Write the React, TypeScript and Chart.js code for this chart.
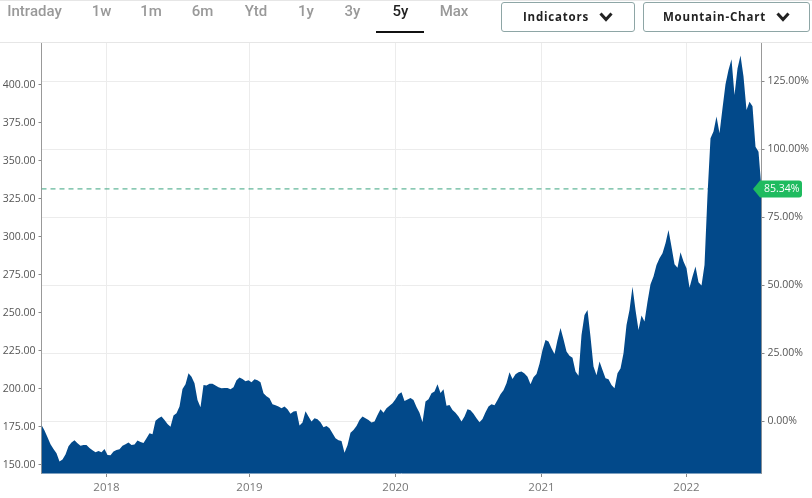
import { useEffect, useRef } from 'react';
import { Chart, registerables } from 'chart.js';

Chart.register(...registerables);

// one reading per sample along the time axis
const closes: number[] = [
  176.3, 172.6, 168.2, 163.6, 160.5, 157.7, 152.2, 153.5, 156.8, 162.3,
  164.7, 166.2, 164.3, 162.7, 163.2, 163.2, 161.2, 159.7, 158.3, 159.2,
  158.3, 160.5, 156.6, 156.4, 158.8, 159.9, 160.3, 162.7, 163.6, 164.7,
  163.2, 163.4, 166.0, 165.1, 164.5, 167.6, 170.8, 170.2, 179.0, 180.7,
  181.8, 179.6, 177.0, 175.2, 182.5, 184.0, 188.4, 200.0, 203.1, 210.3,
  208.1, 203.7, 192.8, 188.0, 202.6, 202.2, 203.5, 203.5, 202.2, 201.1,
  200.4, 200.7, 200.7, 199.8, 201.1, 205.7, 207.5, 206.6, 205.0, 205.7,
  204.4, 206.4, 205.7, 204.4, 197.2, 195.2, 193.9, 189.9, 189.3, 188.4,
  187.3, 188.4, 186.6, 183.6, 185.1, 185.5, 176.0, 178.0, 185.3, 181.8,
  178.5, 180.7, 180.0, 178.1, 174.8, 175.7, 174.1, 170.8, 167.6, 166.2,
  165.8, 158.0, 163.0, 171.1, 173.0, 175.7, 179.6, 181.8, 180.7, 179.6,
  177.9, 178.5, 182.9, 186.6, 184.4, 187.3, 189.0, 190.6, 193.2, 196.5,
  197.8, 192.1, 193.0, 194.1, 192.8, 188.2, 184.4, 178.1, 191.7, 193.2,
  197.2, 198.3, 203.1, 197.4, 199.8, 189.0, 189.5, 186.2, 184.4, 181.8,
  178.5, 181.8, 186.6, 186.0, 183.6, 180.7, 178.1, 180.3, 184.7, 188.4,
  189.9, 189.3, 192.8, 196.5, 199.1, 203.7, 211.0, 206.6, 209.7, 211.0,
  211.4, 210.1, 208.1, 203.1, 207.7, 209.9, 216.5, 225.7, 232.2, 231.2,
  226.8, 223.0, 232.2, 240.1, 232.7, 224.6, 221.9, 220.6, 211.4, 208.6,
  235.5, 248.7, 252.0, 234.4, 214.7, 209.0, 218.0, 212.5, 207.0, 206.4,
  202.6, 200.4, 210.3, 213.4, 223.5, 242.1, 252.0, 267.3, 252.0, 238.8,
  248.3, 244.3, 257.4, 268.8, 273.9, 281.6, 286.0, 289.2, 295.8, 304.6,
  293.6, 282.0, 279.8, 289.9, 283.8, 279.4, 266.6, 273.9, 280.5, 270.2,
  268.0, 281.6, 327.6, 364.9, 369.3, 379.2, 368.2, 384.6, 400.4, 409.9,
  416.9, 393.4, 410.9, 419.3, 405.5, 383.5, 389.0, 386.0, 359.4, 356.0,
  331.6,
];

const priceTicks = [150, 175, 200, 225, 250, 275, 300, 325, 350, 375, 400];
const percentTicks = [0, 25, 50, 75, 100, 125];
const yearLabels = ['2018', '2019', '2020', '2021', '2022'];
const yearStartSamples = [21.67, 69.33, 118, 166.67, 215];
const lastClose = 331.6;
const lastPercent = '85.34%';

const rangeTabs = ['Intraday', '1w', '1m', '6m', 'Ytd', '1y', '3y', '5y', 'Max'];
const tabCenters = [34.5, 101.5, 151, 202.5, 256, 306, 352.5, 400.5, 454];
const activeTab = '5y';

const axisFont = '"Open Sans", sans-serif';

const lastPriceTag = {
  id: 'lastPriceTag',
  afterDraw(chart: any) {
    const y = chart.scales.y.getPixelForValue(lastClose);
    const { ctx } = chart;
    ctx.save();
    ctx.fillStyle = '#1fbb5f';
    ctx.beginPath();
    ctx.moveTo(753, y);
    ctx.lineTo(760, y - 8.5);
    ctx.lineTo(799, y - 8.5);
    ctx.quadraticCurveTo(802, y - 8.5, 802, y - 5.5);
    ctx.lineTo(802, y + 5.5);
    ctx.quadraticCurveTo(802, y + 8.5, 799, y + 8.5);
    ctx.lineTo(760, y + 8.5);
    ctx.closePath();
    ctx.fill();
    ctx.fillStyle = '#fff';
    ctx.font = `10.5px ${axisFont}`;
    ctx.textBaseline = 'middle';
    ctx.fillText(lastPercent, 764, y + 0.5);
    ctx.restore();
  },
};

function Chevron() {
  return (
    <svg width="14" height="10" viewBox="0 0 14 10" style={{ marginLeft: 10 }}>
      <polyline points="1.5,1.5 7,7.5 12.5,1.5" fill="none" stroke="#222" strokeWidth="3" />
    </svg>
  );
}

function DropButton({ label, left, width }: { label: string; left: number; width: number }) {
  return (
    <div
      style={{
        position: 'absolute',
        left,
        top: 2,
        width,
        height: 30,
        boxSizing: 'border-box',
        border: '1px solid #8ea6a6',
        borderRadius: 3,
        paddingBottom: 1,
        display: 'flex',
        alignItems: 'center',
        justifyContent: 'center',
        font: '700 11.5px "Open Sans", sans-serif',
        letterSpacing: 0.8,
        color: '#222',
      }}
    >
      {label}
      <Chevron />
    </div>
  );
}

export default function App() {
  const canvasRef = useRef<HTMLCanvasElement | null>(null);

  useEffect(() => {
    if (!canvasRef.current) return;

    const chart = new Chart(canvasRef.current, {
      type: 'line',
      data: {
        datasets: [
          {
            data: closes.map((y, x) => ({ x, y })),
            borderWidth: 0,
            backgroundColor: '#02498a',
            fill: 'start',
            pointRadius: 0,
            tension: 0,
            order: 1,
          },
          {
            data: [
              { x: 0, y: lastClose },
              { x: closes.length - 1, y: lastClose },
            ],
            borderColor: '#3aa57f',
            borderWidth: 1,
            borderDash: [5, 4],
            pointRadius: 0,
            fill: false,
            order: 2,
          },
        ],
      },
      options: {
        responsive: false,
        animation: false,
        layout: { padding: { top: 43 } },
        plugins: {
          legend: { display: false },
          tooltip: { enabled: false },
        },
        scales: {
          x: {
            type: 'linear',
            min: 0,
            max: closes.length - 1,
            afterBuildTicks: (s: any) => {
              s.ticks = yearStartSamples.map((value) => ({ value }));
            },
            afterFit: (s: any) => {
              s.height = 25;
            },
            grid: { color: '#ececec', tickColor: '#888', tickLength: 4 },
            border: { color: '#7d9fbf' },
            ticks: {
              autoSkip: false,
              maxRotation: 0,
              padding: 4,
              color: '#777',
              font: { family: axisFont, size: 11.5 },
              callback: (_v: any, i: number) => yearLabels[i],
            },
          },
          y: {
            type: 'linear',
            position: 'left',
            min: 144.7,
            max: 427.6,
            afterBuildTicks: (s: any) => {
              s.ticks = priceTicks.map((value) => ({ value }));
            },
            afterFit: (s: any) => {
              s.width = 41.5;
            },
            grid: { drawOnChartArea: false, tickColor: '#888', tickLength: 3 },
            border: { color: '#999' },
            ticks: {
              padding: 3,
              color: '#555',
              font: { family: axisFont, size: 10.5 },
              callback: (v: any) => Number(v).toFixed(2),
            },
          },
          y2: {
            type: 'linear',
            position: 'right',
            min: -19.1,
            max: 139,
            afterBuildTicks: (s: any) => {
              s.ticks = percentTicks.map((value) => ({ value }));
            },
            afterFit: (s: any) => {
              s.width = 50.5;
            },
            grid: { color: '#ececec', tickColor: '#888', tickLength: 3 },
            border: { color: '#999' },
            ticks: {
              padding: 3,
              color: '#555',
              font: { family: axisFont, size: 10.5 },
              callback: (v: any) => `${Number(v).toFixed(2)}%`,
            },
          },
        },
      },
      plugins: [lastPriceTag],
    });

    return () => {
      chart.destroy();
    };
  }, []);

  return (
    <div
      style={{
        position: 'absolute',
        left: 0,
        top: 0,
        width: 812,
        height: 498,
        overflow: 'hidden',
        background: '#fff',
        fontFamily: 'Roboto, sans-serif',
      }}
    >
      <canvas ref={canvasRef} width={812} height={498} style={{ position: 'absolute', left: 0, top: 0 }}></canvas>
      <div style={{ position: 'absolute', left: 0, top: 0, width: 812, height: 1, background: '#e6e6e6' }} />
      <div style={{ position: 'absolute', left: 0, top: 42, width: 812, height: 1, background: '#e6e6e6' }} />
      {rangeTabs.map((tab, i) => (
        <div
          key={tab}
          style={{
            position: 'absolute',
            left: tabCenters[i],
            top: 2,
            transform: 'translateX(-50%)',
            font: '500 15px Roboto, sans-serif',
            color: tab === activeTab ? '#222' : '#999',
          }}
        >
          {tab}
        </div>
      ))}
      <div style={{ position: 'absolute', left: 376, top: 31, width: 48, height: 2, background: '#111' }} />
      <DropButton label="Indicators" left={501} width={134} />
      <DropButton label="Mountain-Chart" left={643} width={167} />
    </div>
  );
}
